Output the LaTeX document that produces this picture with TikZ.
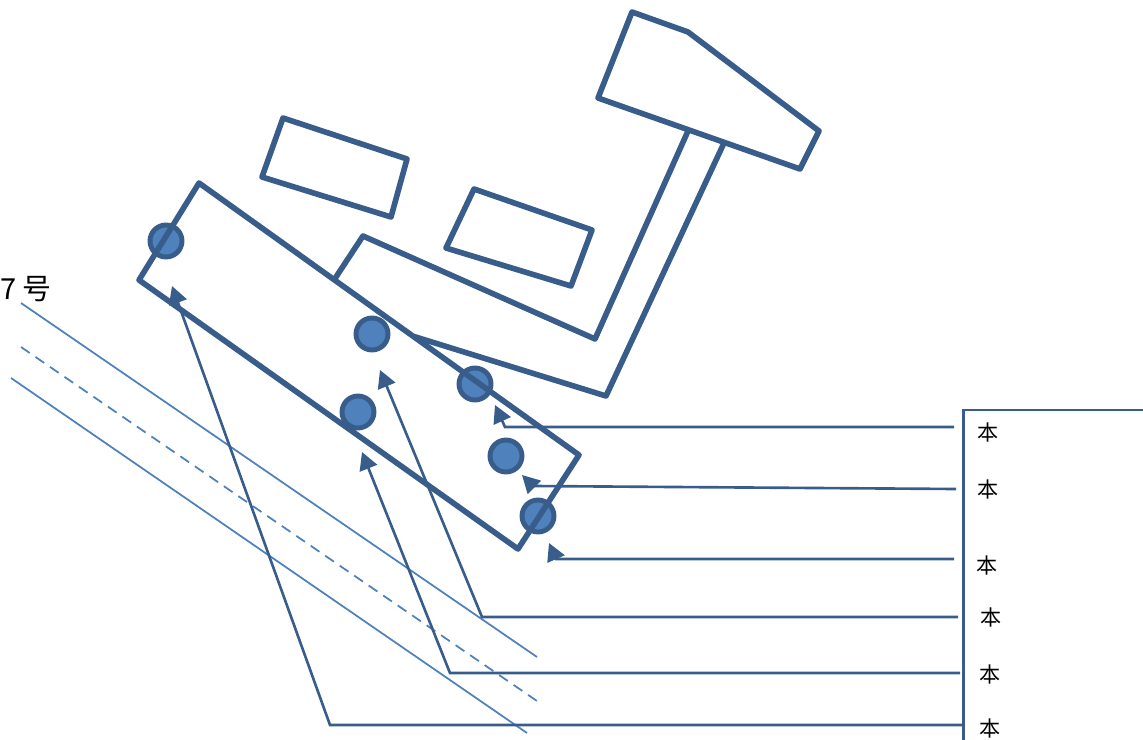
\documentclass[tikz,border=0pt]{standalone}
\usepackage{fontspec}
\usepackage{xcolor}
\setmainfont{Noto Sans CJK SC}
\usetikzlibrary{arrows.meta}
\definecolor{dark-blue}{HTML}{385D8A}
\definecolor{mid-blue}{HTML}{4F81BD}
\tikzset{
  outline/.style={draw=dark-blue, line width=3.2pt, line join=round},
  bolt/.style={circle, draw=dark-blue, fill=mid-blue, line width=2.8pt, minimum size=0.64cm, inner sep=0pt},
  leader/.style={draw=dark-blue, line width=1.5pt, -{Triangle[length=10pt,width=10.5pt]}},
  road/.style={draw=mid-blue, line width=1pt},
  benlabel/.style={font=\fontsize{12}{13}\selectfont, inner sep=0pt}
}

\begin{document}
\begin{tikzpicture}[x=0.02cm, y=-0.02cm]
  \useasboundingbox (0,0) rectangle (1143,740);
  % roads
  \coordinate (r1a) at (21,303);
  \coordinate (r1b) at (537,657);
  \coordinate (r2a) at (21,347);
  \coordinate (r2b) at (537,701);
  \coordinate (r3a) at (11,378);
  \coordinate (r3b) at (527,733);
  \draw[road] (r1a) -- (r1b);
  \draw[road, dash pattern=on 6pt off 4pt] (r2a) -- (r2b);
  \draw[road] (r3a) -- (r3b);
  \node[font=\fontsize{16.5}{18}\selectfont, anchor=west, inner sep=0pt] (roadname) at (0,289) {7 号};
  % bolts
  \foreach \n/\x/\y in {b1/166/241,b2/372/334,b3/475/384,b4/358/412,b5/506/456,b6/538/516} {
    \node[bolt] (\n) at (\x,\y) {};
  }
  % buildings
  \draw[outline] (262,177) -- (283,118) -- (407,159) -- (391,217) -- cycle;
  \draw[outline] (446,248) -- (474,189) -- (592,230) -- (571,286) -- cycle;
  \draw[outline] (598,98) -- (632,12) -- (688,32) -- (819,131) -- (800,169) -- cycle;
  \draw[outline] (334,280) -- (363,236) -- (595,339) -- (688,131);
  \draw[outline] (414,336.5) -- (606,396) -- (724,143);
  \draw[outline] (139,280) -- (199,183) -- (579,455) -- (518,549) -- cycle;
  % table
  \coordinate (tabletop) at (1143,410);
  \coordinate (tablecorner) at (963,410);
  \coordinate (tablebottom) at (963,740);
  \draw[dark-blue, line width=1.7pt] (tabletop) -- (tablecorner) -- (tablebottom);
  % labels
  \foreach \n/\x/\y in {l1/988/432,l2/988/489,l3/987/565,l4/991/617,l5/990/674,l6/990/728} {
    \node[benlabel] (\n) at (\x,\y) {本};
  }
  % leaders
  \foreach \n/\sx/\sy/\kx/\ky/\tx/\ty in {
    1/954/427/505/427/495/405,
    2/956/489/533/486/522/475,
    3/954/559/556/559/549/543,
    4/958/617/482/617/380/370,
    5/960/673/450/673/362/452,
    6/963/725/330/725/172/286} {
    \coordinate (s\n) at (\sx,\sy);
    \coordinate (k\n) at (\kx,\ky);
    \coordinate (t\n) at (\tx,\ty);
    \draw[leader] (s\n) -- (k\n) -- (t\n);
  }
\end{tikzpicture}
\end{document}
